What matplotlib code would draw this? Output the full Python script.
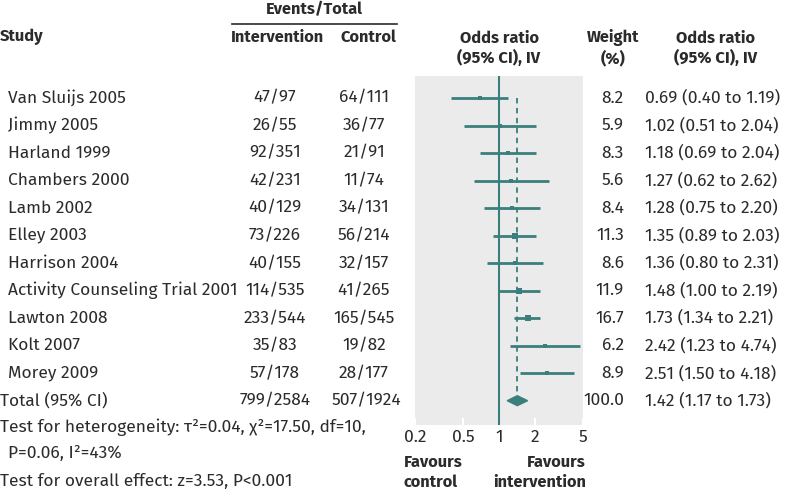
import matplotlib
matplotlib.use("Agg")
import matplotlib.pyplot as plt
import numpy as np
from matplotlib.patches import Polygon

studies = ["Van Sluijs 2005", "Jimmy 2005", "Harland 1999", "Chambers 2000", "Lamb 2002",
           "Elley 2003", "Harrison 2004", "Activity Counseling Trial 2001", "Lawton 2008",
           "Kolt 2007", "Morey 2009"]
interv = ["47/97", "26/55", "92/351", "42/231", "40/129", "73/226", "40/155", "114/535",
          "233/544", "35/83", "57/178"]
control = ["64/111", "36/77", "21/91", "11/74", "34/131", "56/214", "32/157", "41/265",
           "165/545", "19/82", "28/177"]
weights = [8.2, 5.9, 8.3, 5.6, 8.4, 11.3, 8.6, 11.9, 16.7, 6.2, 8.9]
or_est = [0.69, 1.02, 1.18, 1.27, 1.28, 1.35, 1.36, 1.48, 1.73, 2.42, 2.51]
ci_lo = [0.40, 0.51, 0.69, 0.62, 0.75, 0.89, 0.80, 1.00, 1.34, 1.23, 1.50]
ci_hi = [1.19, 2.04, 2.04, 2.62, 2.20, 2.03, 2.31, 2.19, 2.21, 4.74, 4.18]
total_label = "Total (95% CI)"
total_interv = "799/2584"
total_control = "507/1924"
total_weight = 100.0
total_or, total_lo, total_hi = 1.42, 1.17, 1.73
xticks = [0.2, 0.5, 1, 2, 5]
xticklabels = ["0.2", "0.5", "1", "2", "5"]

plt.rcParams['font.family'] = ['Fira Sans', 'Open Sans', 'DejaVu Sans']
TEAL = "#3a7f7d"
TXT = "#2b2b2b"
FS = 12.5
FSB = 11.8
W, H = 790, 495
fig = plt.figure(figsize=(W / 100, H / 100), dpi=100)

def fx(px):
    return px / W

def fy(py):
    return 1 - py / H

ax_l, ax_r, ax_t, ax_b = 415, 583, 76, 425
ax = fig.add_axes([fx(ax_l), fy(ax_b), (ax_r - ax_l) / W, (ax_b - ax_t) / H])
ax.set_facecolor("#ebebeb")
ax.set_xscale("log")
ax.set_xlim(0.2, 5)
row0, rowN = 98, 400.7
n = len(studies)
step = (rowN - row0) / n
ax.set_ylim(n + (ax_b - rowN) / step, -(row0 - ax_t) / step)
for s in ax.spines.values():
    s.set_visible(False)
ax.set_yticks([])
ax.set_xticks(xticks)
ax.set_xticklabels(xticklabels)
ax.minorticks_off()
ax.tick_params(axis="x", direction="in", colors="white", length=5, width=1.5,
               labelcolor=TXT, labelsize=FS, pad=3)

ax.axvline(1, color=TEAL, lw=1.5, zorder=2)
ax.plot([total_or, total_or], [0, n - 0.2], color=TEAL, lw=1.3, ls=(0, (3, 2.5)), zorder=2)

for i in range(n):
    ax.plot([ci_lo[i], ci_hi[i]], [i, i], color=TEAL, lw=2, solid_capstyle="butt", zorder=3, clip_on=False)
    ax.plot([or_est[i]], [i], marker="s", color=TEAL, ms=1.15 * np.sqrt(weights[i]), mew=0, zorder=4)

dh = 0.18
diamond = Polygon([[total_lo, n], [total_or, n - dh], [total_hi, n], [total_or, n + dh]],
                  closed=True, color=TEAL, zorder=4)
ax.add_patch(diamond)

def row_y(i):
    return fy(row0 + i * step)

def T(x, y, s, ha="left", bold=False):
    fig.text(fx(x), fy(y) if not isinstance(y, tuple) else y[0], s, ha=ha, va="center",
             fontsize=FSB if bold else FS, weight="bold" if bold else "normal", color=TXT)

# headers
T(314, 10, "Events/Total", "center", True)
fig.add_artist(plt.Line2D([fx(232), fx(397)], [fy(24), fy(24)], color=TXT, lw=1.2))
T(0, 37, "Study", "left", True)
T(277, 37, "Intervention", "center", True)
T(368, 37, "Control", "center", True)
T(499, 38, "Odds ratio", "center", True)
T(499, 58, "(95% CI), IV", "center", True)
T(613, 38, "Weight", "center", True)
T(613, 58, "(%)", "center", True)
T(716, 38, "Odds ratio", "center", True)
T(716, 58, "(95% CI), IV", "center", True)

for i in range(n):
    y = (row_y(i),)
    T(8, y, studies[i])
    T(275, y, interv[i], "center")
    T(364, y, control[i], "center")
    T(624, y, f"{weights[i]:.1f}", "right")
    T(645, y, f"{or_est[i]:.2f} ({ci_lo[i]:.2f} to {ci_hi[i]:.2f})")

y = (row_y(n),)
T(0, y, total_label)
T(275, y, total_interv, "center")
T(366, y, total_control, "center")
T(624, y, f"{total_weight:.1f}", "right")
T(645, y, f"{total_or:.2f} ({total_lo:.2f} to {total_hi:.2f})")

T(0, 427, "Test for heterogeneity: τ²=0.04, χ²=17.50, df=10,")
T(8, 453, "P=0.06, I²=43%")
T(0, 481, "Test for overall effect: z=3.53, P<0.001")

T(404, 462, "Favours", "left", True)
T(404, 482, "control", "left", True)
T(586, 462, "Favours", "right", True)
T(586, 482, "intervention", "right", True)

fig.savefig("out.png", dpi=100, facecolor="white")
